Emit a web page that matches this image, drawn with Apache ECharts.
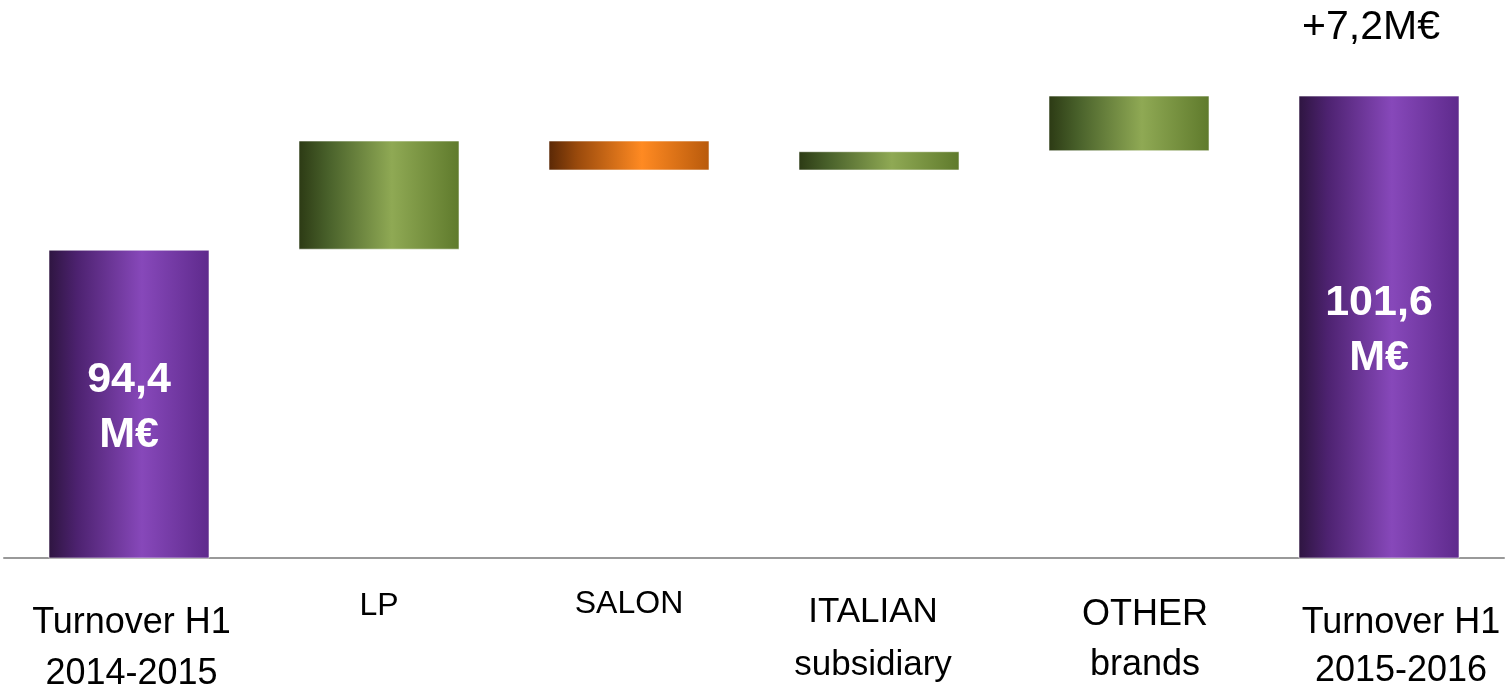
<!DOCTYPE html>
<html>
<head>
<meta charset="utf-8">
<script src="https://cdn.jsdelivr.net/npm/echarts@6/dist/echarts.min.js"></script>
<style>
  html, body { margin: 0; padding: 0; background: #ffffff; }
  #chart { width: 1506px; height: 692px; }
</style>
</head>
<body>
<div id="chart"></div>
<script>
// Turnover bridge H1 2014-2015 -> H1 2015-2016 (M€)
const categories = ['Turnover H1\n2014-2015', 'LP', 'SALON', 'ITALIAN\nsubsidiary', 'OTHER\nbrands', 'Turnover H1\n2015-2016'];
const startTotal = 94.4;
const endTotal = 101.6;
const changes = [null, 5.1, -1.4, 0.9, 2.6, null];
const yMin = 80;
const yMax = 102;

// per-category label look (font size, line height, padding)
const labelLook = [
  { fontSize: 36, lineHeight: 51, padding: [40, 0, 0, 5] },
  { fontSize: 32, lineHeight: 44, padding: [26, 0, 0, 0] },
  { fontSize: 32, lineHeight: 44, padding: [24, 0, 0, 0] },
  { fontSize: 35, lineHeight: 53, padding: [28, 12, 0, 0] },
  { fontSize: 36, lineHeight: 50, padding: [32, 0, 0, 32] },
  { fontSize: 36, lineHeight: 48, padding: [41, 0, 0, 44] }
];

const fmt = v => v.toFixed(1).replace('.', ',');
const FONT = "'Liberation Sans Narrow', 'Arial Narrow', 'Liberation Sans', Arial, sans-serif";

// waterfall pieces
const totals = categories.map((c, i) => i === 0 ? startTotal : (i === categories.length - 1 ? endTotal : '-'));
const base = [], ups = [], downs = [];
let running = startTotal;
categories.forEach((c, i) => {
  const d = changes[i];
  if (d === null) { base.push('-'); ups.push('-'); downs.push('-'); return; }
  if (d >= 0) { base.push(+running.toFixed(2)); ups.push(d); downs.push('-'); }
  else { base.push(+(running + d).toFixed(2)); ups.push('-'); downs.push(-d); }
  running += d;
});

const grad = (c0, c1, c2, c3) => new echarts.graphic.LinearGradient(0, 0, 1, 0, [
  { offset: 0, color: c0 }, { offset: 0.18, color: c1 }, { offset: 0.58, color: c2 }, { offset: 1, color: c3 }
]);
const purple = grad('#2e1540', '#4d2270', '#8748ba', '#5e2a8c');
const green = grad('#2c3a14', '#48602a', '#8fa954', '#5f7a2c');
const orange = grad('#5a2806', '#9a4a0c', '#ff8a22', '#b85a0c');
const edge = { borderColor: 'rgba(255,255,255,0.55)', borderWidth: 1 };

const chart = echarts.init(document.getElementById('chart'), null, { renderer: 'canvas' });
chart.setOption({
  animation: false,
  backgroundColor: '#ffffff',
  grid: { left: 4, right: 2, top: 87, bottom: 134, containLabel: false, outerBoundsMode: 'none' },
  xAxis: {
    type: 'category',
    data: categories.map((c, i) => ({ value: c, textStyle: labelLook[i] })),
    axisLine: { show: true, lineStyle: { color: '#999999', width: 2 } },
    axisTick: { show: false },
    axisLabel: {
      interval: 0, margin: 0, color: '#000000', fontFamily: FONT,
      verticalAlign: 'top', align: 'center', hideOverlap: false
    }
  },
  yAxis: {
    type: 'value', min: yMin, max: yMax, show: false,
    splitLine: { show: false }
  },
  series: [
    {
      name: 'total', type: 'bar', stack: 'w', barWidth: 161,
      data: totals,
      itemStyle: Object.assign({ color: purple }, edge),
      label: {
        show: true, position: 'inside', offset: [0, 4], color: '#ffffff', fontFamily: FONT,
        fontWeight: 'bold', fontSize: 43, lineHeight: 55,
        formatter: p => fmt(p.value) + '\nM€'
      },
      markPoint: {
        symbol: 'circle', symbolSize: 0,
        data: [{ coord: [categories.length - 1, endTotal], value: endTotal - startTotal }],
        label: {
          show: true, position: 'inside', offset: [-8, -68],
          color: '#000000', fontFamily: FONT, fontSize: 41,
          formatter: p => '+' + fmt(p.value) + 'M€'
        }
      }
    },
    {
      name: 'base', type: 'bar', stack: 'w', barWidth: 161,
      data: base, silent: true,
      itemStyle: { color: 'rgba(0,0,0,0)' }
    },
    {
      name: 'up', type: 'bar', stack: 'w', barWidth: 161,
      data: ups,
      itemStyle: Object.assign({ color: green }, edge)
    },
    {
      name: 'down', type: 'bar', stack: 'w', barWidth: 161,
      data: downs,
      itemStyle: Object.assign({ color: orange }, edge)
    }
  ]
});
</script>
</body>
</html>
